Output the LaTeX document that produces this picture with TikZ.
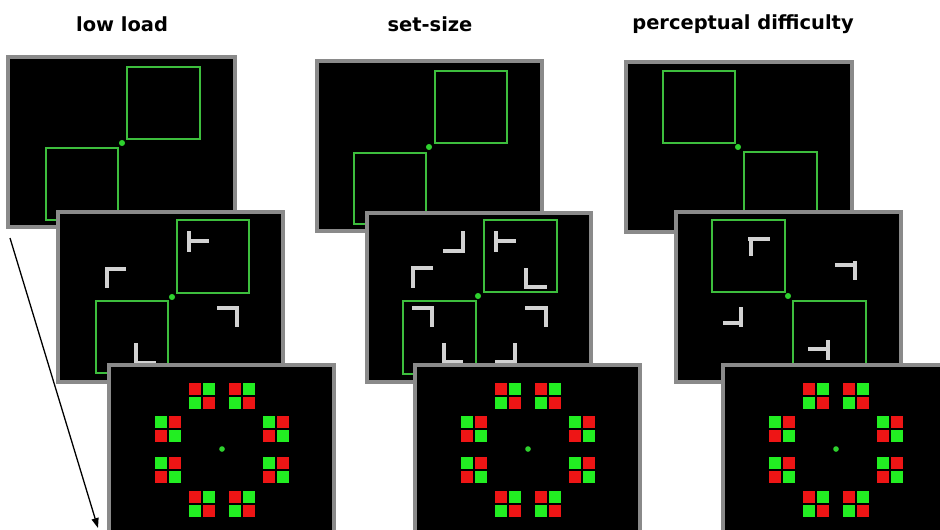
\documentclass[tikz,border=0pt]{standalone}
\usepackage{fontspec}
\setmainfont{DejaVu Sans}
\usetikzlibrary{arrows.meta}
\definecolor{frame}{HTML}{8A8A8A}
\definecolor{cue}{HTML}{3DBE3D}
\definecolor{fix}{HTML}{2ED12E}
\definecolor{bar}{HTML}{D2D2D2}
\definecolor{tred}{HTML}{EE1515}
\definecolor{tgreen}{HTML}{22EE22}
\begin{document}
\begin{tikzpicture}[
  x=0.03cm,y=-0.03cm,
  screen/.style={draw=frame,fill=black,line width=2.8pt},
  cuebox/.style={draw=cue,line width=1.6pt},
  fixdot/.style={fill=fix},
  tbar/.style={draw=bar,line width=3pt},
  title/.style={font=\bfseries\fontsize{16.6}{20}\selectfont},
  arr/.style={-{Triangle[length=8.5pt,width=6pt]},line width=1.1pt}
]
\useasboundingbox (0,0) rectangle (940,530);
\clip (0,0) rectangle (940,530);

% condition titles
\node[title] (tlow) at (122,24) {low load};
\node[title] (tset) at (430,24) {set-size};
\node[title] (tperc) at (743,24) {perceptual difficulty};

% first screens: cue boxes
\draw[screen] (8,57) rectangle (235,227);
\draw[cuebox] (127,67) rectangle (200,139);
\draw[cuebox] (46,148) rectangle (118,220);
\fill[fixdot] (122,143) circle (2.6pt);

\draw[screen] (317,61) rectangle (542,231);
\draw[cuebox] (435,71) rectangle (507,143);
\draw[cuebox] (354,153) rectangle (426,224);
\fill[fixdot] (429,147) circle (2.6pt);

\draw[screen] (626,62) rectangle (852,232);
\draw[cuebox] (663,71) rectangle (735,143);
\draw[cuebox] (744,152) rectangle (817,224);
\fill[fixdot] (738,147) circle (2.6pt);

% second screens: search letters
\draw[screen] (58,212) rectangle (283,382);
\draw[cuebox] (177,220) rectangle (249,293);
\draw[cuebox] (96,301) rectangle (168,373);
\fill[fixdot] (172,297) circle (2.6pt);
\draw[tbar] (189,231) -- (189,252) (189,241) -- (209,241);
\draw[tbar] (126,269) -- (107,269) -- (107,288);
\draw[tbar] (217,308) -- (237,308) -- (237,327);
\draw[tbar] (136,343) -- (136,363) -- (156,363);

\draw[screen] (367,213) rectangle (591,382);
\draw[cuebox] (484,220) rectangle (557,292);
\draw[cuebox] (403,301) rectangle (476,374);
\fill[fixdot] (478,296) circle (2.6pt);
\draw[tbar] (496,231) -- (496,252) (496,241) -- (516,241);
\draw[tbar] (526,268) -- (526,287) -- (547,287);
\draw[tbar] (443,251) -- (463,251) -- (463,231);
\draw[tbar] (433,268) -- (413,268) -- (413,288);
\draw[tbar] (412,308) -- (432,308) -- (432,327);
\draw[tbar] (525,308) -- (546,308) -- (546,327);
\draw[tbar] (444,343) -- (444,362) -- (463,362);
\draw[tbar] (495,362) -- (515,362) -- (515,343);

\draw[screen] (676,212) rectangle (901,382);
\draw[cuebox] (712,220) rectangle (785,292);
\draw[cuebox] (793,301) rectangle (866,374);
\fill[fixdot] (788,296) circle (2.6pt);
\draw[tbar] (748,239) -- (770,239) (751,239) -- (751,256);
\draw[tbar] (835,265) -- (857,265) (855,261) -- (855,280);
\draw[tbar] (723,323) -- (743,323) (741,307) -- (741,327);
\draw[tbar] (808,349) -- (830,349) (828,340) -- (828,360);

% third screens: ring of colour patches
\foreach \cx in {222,528,836}{
  \draw[screen] (\cx-113,365) rectangle (\cx+112,560);
  \fill[fixdot] (\cx,449) circle (2.4pt);
  \foreach \dx/\dy/\ca/\cb in {-20/-53/tred/tgreen,20/-53/tred/tgreen,
      -20/55/tred/tgreen,20/55/tred/tgreen,-54/-20/tgreen/tred,
      -54/21/tgreen/tred,54/-20/tgreen/tred,54/21/tgreen/tred}{
    \fill[\ca] (\cx+\dx-13,449+\dy-13) rectangle ++(12,12);
    \fill[\cb] (\cx+\dx+1,449+\dy-13) rectangle ++(12,12);
    \fill[\cb] (\cx+\dx-13,449+\dy+1) rectangle ++(12,12);
    \fill[\ca] (\cx+\dx+1,449+\dy+1) rectangle ++(12,12);
  }
}

% time arrow
\coordinate (tstart) at (10,238);
\coordinate (tend) at (98,528);
\draw[arr] (tstart) -- (tend);
\end{tikzpicture}
\end{document}
